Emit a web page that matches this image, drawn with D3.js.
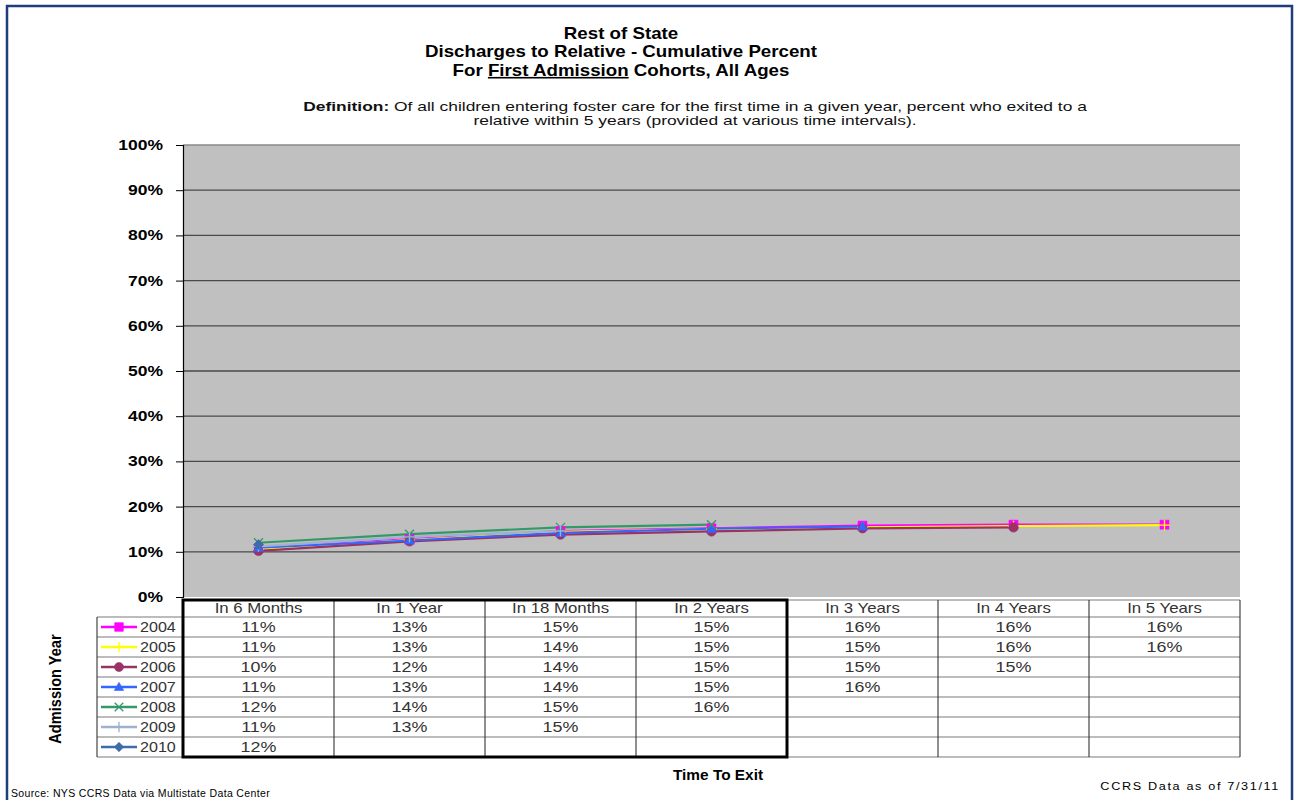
<!DOCTYPE html>
<html>
<head>
<meta charset="utf-8">
<script src="https://cdn.jsdelivr.net/npm/d3@7"></script>
<style>
  html, body { margin: 0; padding: 0; background: #fff; }
  svg { display: block; font-family: "Liberation Sans", Arial, sans-serif; }
</style>
</head>
<body>
<svg id="chart" width="1296" height="800"></svg>
<script>
// Time-to-exit intervals (x categories)
const intervals = ["In 6 Months", "In 1 Year", "In 18 Months", "In 2 Years", "In 3 Years", "In 4 Years", "In 5 Years"];
// Admission-year cohorts
const cohorts = ["2004", "2005", "2006", "2007", "2008", "2009", "2010"];
// Cumulative percent discharged to a relative, per cohort (percent)
const v2004 = [10.7, 12.8, 14.6, 15.2, 15.8, 16.0, 16.0];
const v2005 = [10.6, 12.6, 14.4, 15.0, 15.4, 15.7, 15.9];
const v2006 = [10.2, 12.3, 13.8, 14.5, 15.2, 15.4];
const v2007 = [10.9, 12.5, 14.2, 15.1, 15.6];
const v2008 = [12.0, 13.9, 15.4, 16.0];
const v2009 = [11.2, 13.3, 14.6];
const v2010 = [11.6];
const yTicks = [0, 10, 20, 30, 40, 50, 60, 70, 80, 90, 100];

const seriesValues = [v2004, v2005, v2006, v2007, v2008, v2009, v2010];
const colors = ["#FF00FF", "#FFFF00", "#993366", "#3366FF", "#339966", "#9FB0D0", "#3D6CA8"];
const markers = ["square", "plus", "circle", "triangle", "x", "plus", "diamond"];

const svg = d3.select("#chart");

// Text placed at (x, y) and widened horizontally by sx
function label(parent, x, y, str, opts = {}) {
  const t = parent.append("text")
    .attr("transform", `translate(${x},${y}) scale(${opts.sx || 1},1)`)
    .attr("text-anchor", opts.anchor || "start")
    .attr("font-size", opts.size || 13)
    .attr("fill", opts.fill || "#000");
  if (opts.bold) t.attr("font-weight", "bold");
  if (opts.spacing) t.attr("letter-spacing", opts.spacing);
  if (str !== null) t.text(str);
  return t;
}

// Outer frame
svg.append("rect").attr("x", 7).attr("y", 6).attr("width", 1285).attr("height", 800)
  .attr("fill", "none").attr("stroke", "#1F3C7C").attr("stroke-width", 2.5);

// Titles
label(svg, 621, 39, "Rest of State", {anchor: "middle", bold: true, size: 16, sx: 1.17});
label(svg, 621, 57, "Discharges to Relative - Cumulative Percent", {anchor: "middle", bold: true, size: 16, sx: 1.17});
const t3 = label(svg, 621, 76, null, {anchor: "middle", bold: true, size: 16, sx: 1.17});
t3.append("tspan").text("For ");
t3.append("tspan").attr("text-decoration", "underline").text("First Admission");
t3.append("tspan").text(" Cohorts, All Ages");

const d1 = label(svg, 695, 111, null, {anchor: "middle", size: 13, sx: 1.34, fill: "#111"});
d1.append("tspan").attr("font-weight", "bold").text("Definition:");
d1.append("tspan").text(" Of all children entering foster care for the first time in a given year, percent who exited to a");
label(svg, 695, 125, "relative within 5 years (provided at various time intervals).", {anchor: "middle", size: 13, sx: 1.34, fill: "#111"});

// Scales
const x = d3.scaleBand().domain(intervals).range([183, 1240]).padding(0);
const y = d3.scaleLinear().domain([0, 100]).range([597, 145]);
const cx = d => x(d) + x.bandwidth() / 2;

// Plot area
svg.append("rect").attr("x", 183).attr("y", y(100)).attr("width", 1240 - 183)
  .attr("height", y(0) - y(100)).attr("fill", "#C0C0C0");

// Gridlines
svg.append("g").selectAll("line").data(yTicks.filter(t => t > 0)).join("line")
  .attr("x1", 183).attr("x2", 1240)
  .attr("y1", d => y(d)).attr("y2", d => y(d))
  .attr("stroke", d => d === 100 ? "#8a8a8a" : "#4a4a4a").attr("stroke-width", 1.3);

// Y axis
const yAxis = d3.axisLeft(y).tickValues(yTicks).tickFormat(d => d + "%").tickSize(7).tickPadding(13);
const ya = svg.append("g").attr("transform", "translate(183,0)").call(yAxis);
ya.select(".domain").attr("stroke", "#000").attr("stroke-width", 1.2);
ya.selectAll(".tick line").attr("stroke", "#000");
ya.selectAll(".tick text").attr("font-size", 14).attr("font-weight", "bold").attr("fill", "#000")
  .attr("font-family", "Liberation Sans, Arial, sans-serif")
  .attr("x", 0).attr("transform", "translate(-20,0) scale(1.25,1)");

// Marker shapes
function markerPath(type, s) {
  switch (type) {
    case "square": return `M${-s},${-s}H${s}V${s}H${-s}Z`;
    case "circle": return d3.symbol(d3.symbolCircle, Math.PI * s * s * 1.1)();
    case "triangle": return `M0,${-s * 1.1}L${s * 1.1},${s * 0.8}L${-s * 1.1},${s * 0.8}Z`;
    case "diamond": return `M0,${-s * 1.1}L${s * 1.1},0L0,${s * 1.1}L${-s * 1.1},0Z`;
    case "plus": return `M${-s * 1.2},0H${s * 1.2}M0,${-s * 1.2}V${s * 1.2}`;
    case "x": return `M${-s},${-s}L${s},${s}M${-s},${s}L${s},${-s}`;
  }
}
const isStroke = t => t === "plus" || t === "x";

function drawMarker(g, type, color, px, py, s) {
  const p = g.append("path").attr("d", markerPath(type, s)).attr("transform", `translate(${px},${py})`);
  if (isStroke(type)) p.attr("fill", "none").attr("stroke", color).attr("stroke-width", 1.3);
  else p.attr("fill", color).attr("stroke", color).attr("stroke-width", 0.6);
}

// Series lines and markers
const line = d3.line().x((d, i) => cx(intervals[i])).y(d => y(d));
const plot = svg.append("g");
seriesValues.forEach((vals, k) => {
  plot.append("path").datum(vals).attr("d", line).attr("fill", "none")
    .attr("stroke", colors[k]).attr("stroke-width", 2.2);
});
seriesValues.forEach((vals, k) => {
  vals.forEach((v, i) => drawMarker(plot, markers[k], colors[k], cx(intervals[i]), y(v), 4.5));
});

// Data table
const rowTop = 600, headH = 17, rowH = 20;
const tbl = svg.append("g");
const rowY = i => rowTop + headH + i * rowH;
const tableBottom = rowY(cohorts.length);

tbl.append("rect").attr("x", 183).attr("y", rowTop).attr("width", 1240 - 183).attr("height", tableBottom - rowTop).attr("fill", "#fff");

// Horizontal rules
const hLines = [rowTop].concat(cohorts.map((c, i) => rowY(i))).concat([tableBottom]);
tbl.selectAll("line.h").data(hLines).join("line").attr("class", "h")
  .attr("x1", (d, i) => i === 0 ? 183 : 97).attr("x2", 1240)
  .attr("y1", d => d).attr("y2", d => d)
  .attr("stroke", "#7a7a7a").attr("stroke-width", 1.2);
// Vertical rules
const vLines = intervals.map(c => x(c)).concat([1240]);
tbl.selectAll("line.v").data(vLines).join("line").attr("class", "v")
  .attr("x1", d => d).attr("x2", d => d).attr("y1", rowTop).attr("y2", tableBottom)
  .attr("stroke", "#333").attr("stroke-width", 1.1);
tbl.append("line").attr("x1", 97).attr("x2", 97).attr("y1", rowY(0)).attr("y2", tableBottom)
  .attr("stroke", "#333").attr("stroke-width", 1.1);

// Header labels
intervals.forEach(d => label(tbl, cx(d), rowTop + headH / 2 + 4.5, d,
  {anchor: "middle", size: 14, sx: 1.2, fill: "#333"}));

// Value cells
const fmt = d3.format(".0f");
seriesValues.forEach((vals, k) => {
  vals.forEach((v, i) => label(tbl, cx(intervals[i]), rowY(k) + rowH / 2 + 5, fmt(v) + "%",
    {anchor: "middle", size: 14, sx: 1.28, fill: "#333"}));
});

// Legend keys in the row header column
cohorts.forEach((c, k) => {
  const my = rowY(k) + rowH / 2;
  tbl.append("line").attr("x1", 101).attr("x2", 137).attr("y1", my).attr("y2", my)
    .attr("stroke", colors[k]).attr("stroke-width", 2.4);
  drawMarker(tbl, markers[k], colors[k], 119, my, 4.3);
  label(tbl, 140, my + 5, c, {size: 14, sx: 1.15, fill: "#333"});
});

// Thick box around the first two years
tbl.append("rect").attr("x", 183).attr("y", rowTop).attr("width", x("In 3 Years") - 183)
  .attr("height", tableBottom - rowTop).attr("fill", "none").attr("stroke", "#000").attr("stroke-width", 3);

// Axis titles and notes
svg.append("text").attr("transform", "translate(61,689) rotate(-90) scale(0.86,1)").attr("text-anchor", "middle")
  .attr("font-family", "'Liberation Sans Narrow', 'Arial Narrow', sans-serif")
  .attr("font-weight", "bold").attr("font-size", 17).attr("fill", "#000").text("Admission Year");
label(svg, 718, 780, "Time To Exit", {anchor: "middle", bold: true, size: 14, sx: 1.1});
label(svg, 11, 797, "Source: NYS CCRS Data via Multistate Data Center", {size: 10.5, spacing: 0.35, sx: 1});
label(svg, 1280, 790, "CCRS Data as of 7/31/11", {anchor: "end", size: 11.5, spacing: 1.5, sx: 1.1});
</script>
</body>
</html>
